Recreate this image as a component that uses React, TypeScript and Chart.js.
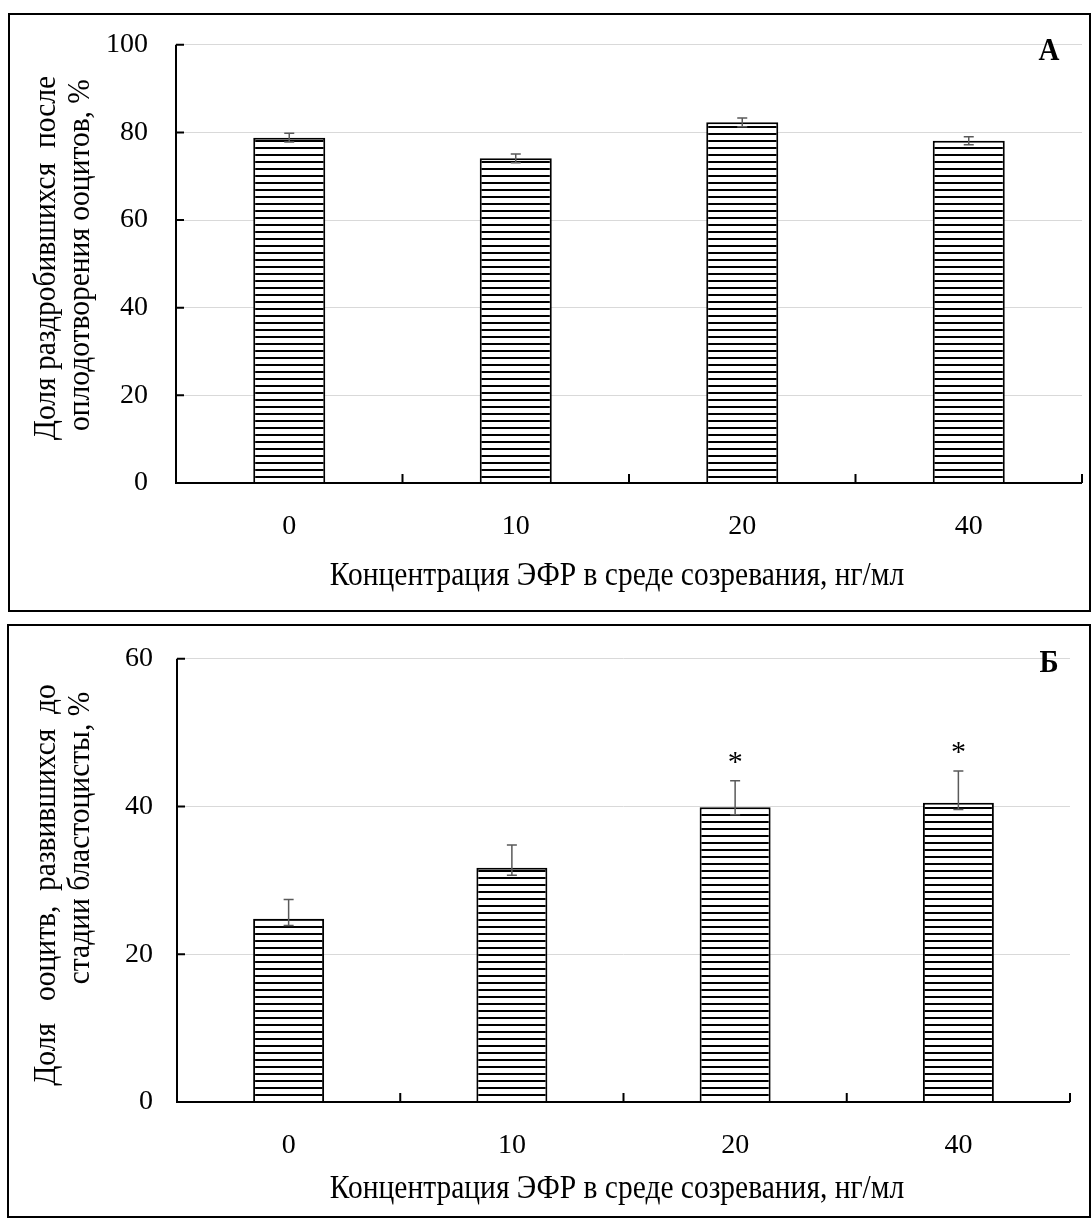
import React, { useEffect, useRef } from "react";
import { Chart, registerables } from "chart.js";

Chart.register(...registerables);

// ---------- data ----------
const categories = ["0", "10", "20", "40"];

const cleavageValues = [78.8, 74.1, 82.3, 78.1];
const cleavageErrUp = [79.8, 75.1, 83.3, 79.0];
const cleavageErrDown = [77.8, 73.1, 81.3, 77.2];
const cleavageTicks = [0, 20, 40, 60, 80, 100];
const cleavageSignificant = [false, false, false, false];

const blastValues = [24.8, 31.7, 39.9, 40.5];
const blastErrUp = [27.4, 34.8, 43.5, 44.8];
const blastErrDown = [23.9, 30.7, 38.9, 39.6];
const blastTicks = [0, 20, 40, 60];
const blastSignificant = [false, false, true, true];

const xTitle = "Концентрация ЭФР в среде созревания, нг/мл";
const yTitleA = ["Доля раздробившихся  после", "оплодотворения ооцитов, %"];
const yTitleB = ["Доля   ооцитв,  развившихся  до", "стадии бластоцисты, %"];
const letterA = "А";
const letterB = "Б";

const FONT = "'Liberation Serif', 'Times New Roman', serif";

function makeStripePattern(): CanvasPattern | string {
  const c = document.createElement("canvas");
  c.width = 8;
  c.height = 7;
  const g = c.getContext("2d");
  if (!g) return "#fff";
  g.fillStyle = "#ffffff";
  g.fillRect(0, 0, 8, 7);
  g.fillStyle = "#000000";
  g.fillRect(0, 0, 8, 2);
  const p = g.createPattern(c, "repeat");
  return p || "#fff";
}

function drawText(
  ctx: CanvasRenderingContext2D,
  text: string,
  x: number,
  y: number,
  font: string,
  rotate = 0,
  sx = 1,
  sy = 1
) {
  ctx.save();
  ctx.translate(x, y);
  ctx.rotate(rotate);
  ctx.scale(sx, sy);
  ctx.font = font;
  ctx.textAlign = "center";
  ctx.textBaseline = "alphabetic";
  ctx.fillStyle = "#000";
  ctx.fillText(text, 0, 0);
  ctx.restore();
}

type PanelCfg = {
  errUp: number[];
  errDown: number[];
  sig: boolean[];
  yTitle: string[];
  yTitleX: number[];
  yTitleY: number[];
  xTitleX: number;
  xTitleY: number;
  letter: string;
  letterY: number;
};

const panelPlugin = {
  id: "panelDecor",
  afterDatasetsDraw(chart: any) {
    const cfg: PanelCfg = chart.options.plugins.panelDecor;
    const ctx: CanvasRenderingContext2D = chart.ctx;
    const xs = chart.scales.x;
    const ys = chart.scales.y;
    const area = chart.chartArea;
    const n = chart.data.labels.length;

    // error bars
    ctx.save();
    ctx.strokeStyle = "#5a5a5a";
    ctx.lineWidth = 1.5;
    for (let i = 0; i < n; i++) {
      const x = xs.getPixelForValue(i);
      const yT = ys.getPixelForValue(cfg.errUp[i]);
      const yB = ys.getPixelForValue(cfg.errDown[i]);
      ctx.beginPath();
      ctx.moveTo(x, yT);
      ctx.lineTo(x, yB);
      ctx.moveTo(x - 5, yT);
      ctx.lineTo(x + 5, yT);
      ctx.moveTo(x - 5, yB);
      ctx.lineTo(x + 5, yB);
      ctx.stroke();
      if (cfg.sig[i]) {
        drawText(ctx, "*", x, yT - 10, `30px ${FONT}`);
      }
    }
    ctx.restore();

    // axes
    ctx.save();
    ctx.strokeStyle = "#000";
    ctx.lineWidth = 2;
    ctx.beginPath();
    ctx.moveTo(area.left, area.top);
    ctx.lineTo(area.left, area.bottom);
    ctx.lineTo(area.right, area.bottom);
    ctx.stroke();
    ctx.beginPath();
    for (const t of ys.ticks) {
      const y = ys.getPixelForValue(t.value);
      ctx.moveTo(area.left, y);
      ctx.lineTo(area.left + 8, y);
    }
    for (let i = 0; i <= n; i++) {
      const x = xs.getPixelForValue(i - 0.5);
      ctx.moveTo(x, area.bottom);
      ctx.lineTo(x, area.bottom - 9);
    }
    ctx.stroke();
    ctx.restore();
  },
  afterDraw(chart: any) {
    const cfg: PanelCfg = chart.options.plugins.panelDecor;
    const ctx: CanvasRenderingContext2D = chart.ctx;
    drawText(ctx, xTitle, cfg.xTitleX, cfg.xTitleY, `29.5px ${FONT}`, 0, 1.0, 1.12);
    cfg.yTitle.forEach((line, i) => {
      drawText(ctx, line, cfg.yTitleX[i], cfg.yTitleY[i], `29.5px ${FONT}`, -Math.PI / 2, 1.0, 1.05);
    });
    drawText(ctx, cfg.letter, 1049, cfg.letterY, `bold 29px ${FONT}`, 0, 1, 1.1);
  },
};

type PanelProps = {
  top: number;
  height: number;
  values: number[];
  ticks: number[];
  max: number;
  padTop: number;
  padRight: number;
  yWidth: number;
  xHeight: number;
  xTickPad: number;
  yTickPad: number;
  cfg: PanelCfg;
};

function Panel(props: PanelProps) {
  const ref = useRef<HTMLCanvasElement | null>(null);
  useEffect(() => {
    if (!ref.current) return;
    const pattern = makeStripePattern();
    const chart = new Chart(ref.current, {
      type: "bar",
      data: {
        labels: categories,
        datasets: [
          {
            data: props.values,
            backgroundColor: pattern as any,
            borderColor: "#000",
            borderWidth: 2,
            categoryPercentage: 1,
            barPercentage: 0.318,
          },
        ],
      },
      plugins: [panelPlugin as any],
      options: {
        animation: false,
        responsive: false,
        maintainAspectRatio: false,
        events: [],
        layout: { padding: { top: props.padTop, right: props.padRight, left: 0, bottom: 0 } },
        plugins: {
          legend: { display: false },
          tooltip: { enabled: false },
          panelDecor: props.cfg,
        } as any,
        scales: {
          x: {
            type: "category",
            offset: true,
            grid: { display: false },
            border: { display: false },
            ticks: {
              font: { family: FONT, size: 28 },
              color: "#000",
              padding: props.xTickPad,
              maxRotation: 0,
            },
            afterFit: (s: any) => {
              s.height = props.xHeight;
            },
          },
          y: {
            min: 0,
            max: props.max,
            afterBuildTicks: (s: any) => {
              s.ticks = props.ticks.map((v) => ({ value: v }));
            },
            grid: { color: "#d9d9d9", lineWidth: 1, drawTicks: false },
            border: { display: false },
            ticks: {
              font: { family: FONT, size: 28 },
              color: "#000",
              padding: props.yTickPad,
            },
            afterFit: (s: any) => {
              s.width = props.yWidth;
            },
          },
        },
      } as any,
    });
    return () => chart.destroy();
  }, []);
  return (
    <canvas
      ref={ref}
      width={1092}
      height={props.height}
      style={{ position: "absolute", left: 0, top: props.top, width: 1092, height: props.height, display: "block" }}
    />
  );
}

export default function App() {
  return (
    <div style={{ position: "absolute", left: 0, top: 0, width: 1092, height: 1219, background: "#fff" }}>
      <Panel
        top={0}
        height={618}
        values={cleavageValues}
        ticks={cleavageTicks}
        max={100}
        padTop={43}
        padRight={10}
        yWidth={176}
        xHeight={135}
        xTickPad={19}
        yTickPad={28}
        cfg={{
          errUp: cleavageErrUp,
          errDown: cleavageErrDown,
          sig: cleavageSignificant,
          yTitle: yTitleA,
          yTitleX: [55, 89],
          yTitleY: [258, 255],
          xTitleX: 617,
          xTitleY: 585,
          letter: letterA,
          letterY: 60,
        }}
      />
      <Panel
        top={618}
        height={601}
        values={blastValues}
        ticks={blastTicks}
        max={60}
        padTop={37}
        padRight={22}
        yWidth={177}
        xHeight={117}
        xTickPad={19}
        yTickPad={24}
        cfg={{
          errUp: blastErrUp,
          errDown: blastErrDown,
          sig: blastSignificant,
          yTitle: yTitleB,
          yTitleX: [55, 89],
          yTitleY: [267, 220],
          xTitleX: 617,
          xTitleY: 580,
          letter: letterB,
          letterY: 54,
        }}
      />
      <div
        style={{
          position: "absolute",
          left: 8,
          top: 13,
          width: 1083,
          height: 599,
          border: "2px solid #000",
          boxSizing: "border-box",
          pointerEvents: "none",
        }}
      />
      <div
        style={{
          position: "absolute",
          left: 7,
          top: 624,
          width: 1084,
          height: 594,
          border: "2px solid #000",
          boxSizing: "border-box",
          pointerEvents: "none",
        }}
      />
    </div>
  );
}
